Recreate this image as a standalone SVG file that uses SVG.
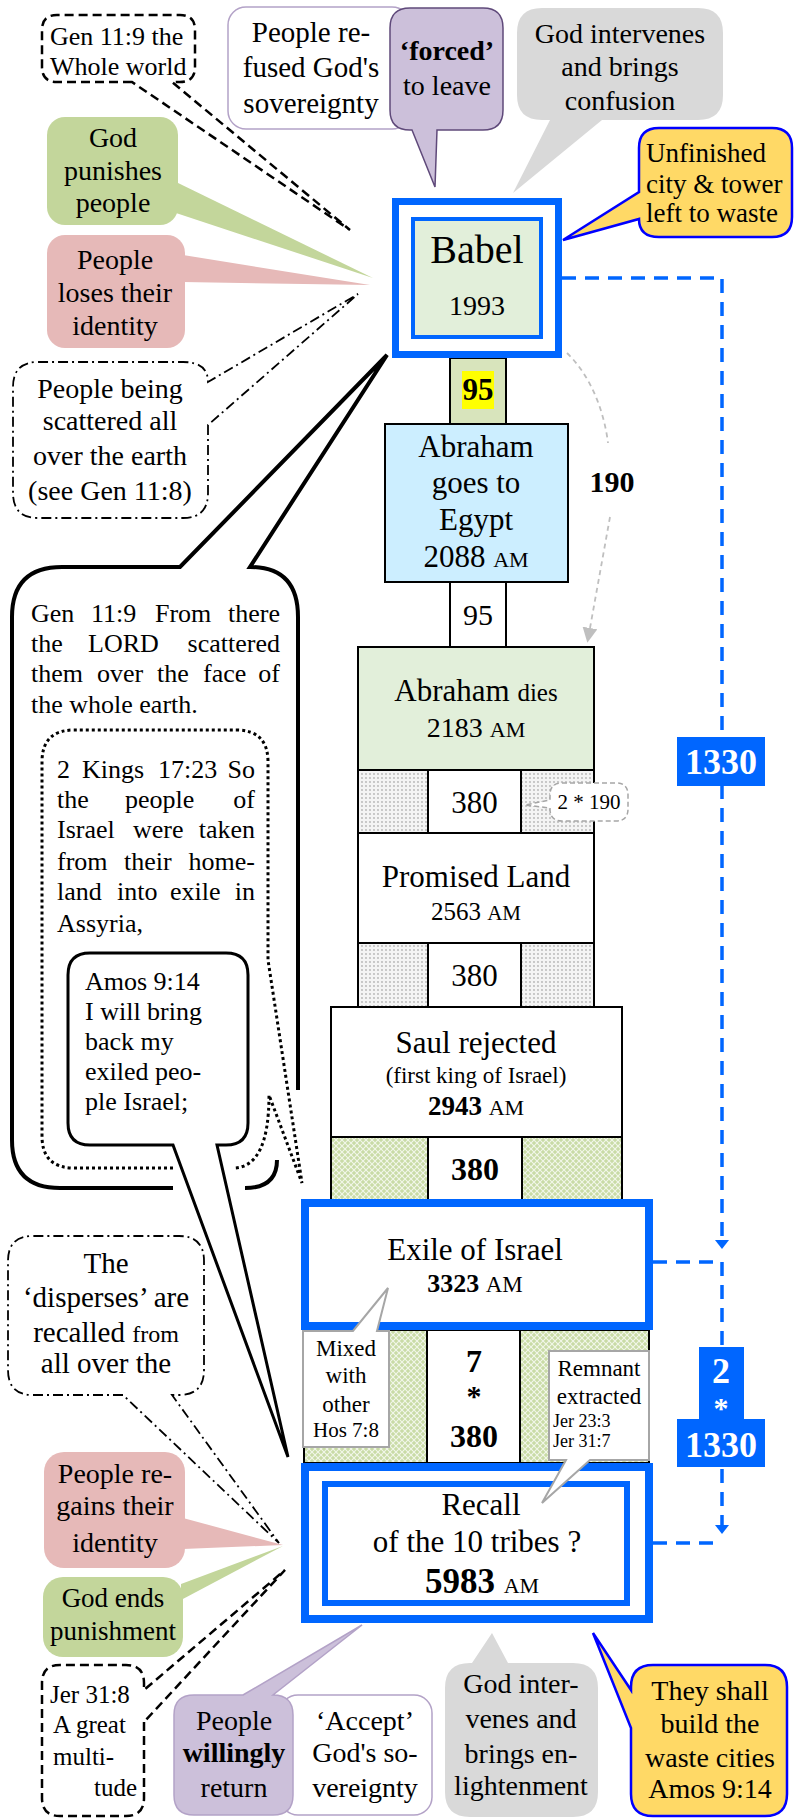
<svg xmlns="http://www.w3.org/2000/svg" width="800" height="1818" viewBox="0 0 800 1818">
<style>
text{font-family:"Liberation Serif","Times New Roman",serif;fill:#000}
.c{text-anchor:middle}
.e{text-anchor:end}
.b{font-weight:bold}
.f26{font-size:26px}.f28{font-size:28px}.f31{font-size:31px}
.box{stroke:#000;stroke-width:2}
.blue{fill:none;stroke:#0066ff}
.dash{fill:none;stroke:#0066ff;stroke-width:3.5;stroke-dasharray:14 9}
.wt{fill:#fff}
</style>
<defs>
<pattern id="dots" width="4" height="4" patternUnits="userSpaceOnUse"><rect width="4" height="4" fill="#f4f4f4"/><circle cx="2" cy="2" r="0.9" fill="#b4b4b4"/></pattern>
<pattern id="grn" width="6" height="6" patternUnits="userSpaceOnUse"><rect width="6" height="6" fill="#c9dba6"/><path d="M0,0 L6,6 M6,0 L0,6" stroke="#f2f7ea" stroke-width="1.1"/></pattern>
<marker id="ab" viewBox="0 0 9 14" refX="0" refY="7" markerWidth="9" markerHeight="14" markerUnits="userSpaceOnUse" orient="auto"><path d="M0,0 L9,7 L0,14 z" fill="#0066ff"/></marker>
<marker id="ag" viewBox="0 0 10 10" refX="0" refY="5" markerWidth="15" markerHeight="15" markerUnits="userSpaceOnUse" orient="auto"><path d="M0,0 L10,5 L0,10 z" fill="#bfbfbf"/></marker>
</defs>
<rect width="800" height="1818" fill="#fff"/>

<!-- top-left callouts -->
<g id="gen119a">
<path d="M132,82 H57 Q42,82 42,67 V30 Q42,15 57,15 H180 Q195,15 195,30 V67 Q195,82 180,82 H172 L350,230 Z" fill="#fff" stroke="#000" stroke-width="2.5" stroke-dasharray="9 5"/>
<text class="f26" x="50" y="45">Gen 11:9 the</text>
<text class="f26" x="50" y="75">Whole world</text>
</g>
<g id="refused">
<rect x="228" y="7" width="182" height="122" rx="18" fill="#fff" stroke="#b3a2c7" stroke-width="1.5"/>
<text class="c" style="font-size:29px" x="311" y="42">People re-</text>
<text class="c" style="font-size:29px" x="311" y="77">fused God's</text>
<text class="c" style="font-size:29px" x="311" y="113">sovereignty</text>
</g>
<g id="forced">
<path d="M412,130 L435,187 L437,130 H483 Q503,130 503,110 V28 Q503,8 483,8 H410 Q390,8 390,28 V110 Q390,130 410,130 Z" fill="#ccc0da" stroke="#5f497a" stroke-width="1.5"/>
<text class="c f28 b" x="447" y="60">‘forced’</text>
<text class="c f28" x="447" y="95">to leave</text>
</g>
<g id="confusion">
<path d="M542,120 Q517,120 517,95 V33 Q517,8 542,8 H698 Q723,8 723,33 V95 Q723,120 698,120 H602 L513,193 L550,120 Z" fill="#d9d9d9"/>
<text class="c f28" x="620" y="43">God intervenes</text>
<text class="c f28" x="620" y="76">and brings</text>
<text class="c f28" x="620" y="110">confusion</text>
</g>
<g id="unfinished">
<path d="M639,192 V148 Q639,128 659,128 H772 Q792,128 792,148 V217 Q792,237 772,237 H659 Q639,237 639,219 L563,240 Z" fill="#ffd966" stroke="#0000ff" stroke-width="2.5"/>
<text style="font-size:27px" x="646" y="162">Unfinished</text>
<text style="font-size:27px" x="646" y="193">city &amp; tower</text>
<text style="font-size:27px" x="646" y="222">left to waste</text>
</g>
<g id="punishes">
<rect x="47" y="117" width="131" height="108" rx="18" fill="#c3d69b"/>
<path d="M176,182 L373,278 L176,213 Z" fill="#c3d69b"/>
<text class="c f28" x="113" y="147">God</text>
<text class="c f28" x="113" y="180">punishes</text>
<text class="c f28" x="113" y="212">people</text>
</g>
<g id="loses">
<rect x="47" y="235" width="138" height="113" rx="18" fill="#e6b9b8"/>
<path d="M183,255 L370,285 L183,282 Z" fill="#e6b9b8"/>
<text class="c f28" x="115" y="269">People</text>
<text class="c f28" x="115" y="302">loses their</text>
<text class="c f28" x="115" y="335">identity</text>
</g>
<g id="scattered">
<path d="M208,425 V493 Q208,518 183,518 H38 Q13,518 13,493 V387 Q13,362 38,362 H183 Q208,362 208,382 L358,294 Z" fill="#fff" stroke="#000" stroke-width="1.8" stroke-dasharray="10 4 2 4"/>
<text class="c f28" x="110" y="398">People being</text>
<text class="c f28" x="110" y="430">scattered all</text>
<text class="c f28" x="110" y="465">over the earth</text>
<text class="c f28" x="110" y="500">(see Gen 11:8)</text>
</g>

<!-- big left callouts -->
<g id="gen119b">
<path d="M65,567 H180 L387,355 L250,567 Q298,567 298,617 V1140 Q298,1188 250,1188 H60 Q12,1188 12,1140 V617 Q12,567 65,567 Z" fill="#fff"/>
<path d="M173,1188 H60 Q12,1188 12,1140 V617 Q12,567 62,567 H180 L387,355 L250,567 Q298,567 298,617 V1090 M245,1188 Q277,1188 277,1160" fill="none" stroke="#000" stroke-width="4" stroke-linejoin="miter"/>
<g class="f26">
<text x="31" y="622">Gen</text><text x="91" y="622">11:9</text><text x="155" y="622">From</text><text class="e" x="280" y="622">there</text>
<text x="31" y="652">the</text><text x="88" y="652">LORD</text><text class="e" x="280" y="652">scattered</text>
<text x="31" y="682">them</text><text x="97" y="682">over</text><text x="157" y="682">the</text><text x="203" y="682">face</text><text class="e" x="280" y="682">of</text>
<text x="31" y="713">the whole earth.</text>
</g>
</g>
<g id="kings">
<path d="M74,730 H236 Q268,730 268,762 V960 L302,1183 L269,1095 Q269,1168 233,1168 H74 Q42,1168 42,1136 V762 Q42,730 74,730 Z" fill="#fff"/>
<path d="M173,1168 H74 Q42,1168 42,1136 V762 Q42,730 74,730 H236 Q268,730 268,762 V960 L302,1183 L269,1095 Q269,1168 233,1168" fill="none" stroke="#000" stroke-width="3" stroke-dasharray="3 3"/>
<g class="f26">
<text x="57" y="778">2</text><text x="82" y="778">Kings</text><text x="158" y="778">17:23</text><text class="e" x="255" y="778">So</text>
<text x="57" y="808">the</text><text x="125" y="808">people</text><text class="e" x="255" y="808">of</text>
<text x="57" y="838">Israel</text><text x="133" y="838">were</text><text class="e" x="255" y="838">taken</text>
<text x="57" y="870">from</text><text x="124" y="870">their</text><text class="e" x="255" y="870">home-</text>
<text x="57" y="900">land</text><text x="117" y="900">into</text><text x="170" y="900">exile</text><text class="e" x="255" y="900">in</text>
<text x="57" y="932">Assyria,</text>
</g>
</g>
<g id="amos">
<path d="M173,1145 H90 Q68,1145 68,1123 V975 Q68,953 90,953 H226 Q248,953 248,975 V1123 Q248,1145 226,1145 H217 L288,1457 Z" fill="#fff" stroke="#000" stroke-width="3"/>
<g class="f26">
<text x="85" y="990">Amos 9:14</text>
<text x="85" y="1020">I will bring</text>
<text x="85" y="1050">back my</text>
<text x="85" y="1080">exiled peo-</text>
<text x="85" y="1110">ple Israel;</text>
</g>
</g>

<!-- tower -->
<g id="col95a">
<rect class="box" x="450" y="358" width="56" height="66" fill="#d8e4bc"/>
<rect x="462" y="371" width="32" height="38" fill="#ffff00"/>
<text class="c b" style="font-size:31px" x="478" y="400">95</text>
</g>
<g id="babel">
<rect x="395.5" y="201.5" width="163" height="153" fill="#fff" class="blue" stroke-width="7"/>
<rect x="413" y="219" width="128" height="118" fill="#e2efda" stroke="#0066ff" stroke-width="4"/>
<text class="c" style="font-size:40px" x="477" y="263">Babel</text>
<text class="c f28" x="477" y="315">1993</text>
</g>
<g id="egypt">
<rect class="box" x="385" y="424" width="183" height="158" fill="#cceeff"/>
<text class="c f31" x="476" y="457">Abraham</text>
<text class="c f31" x="476" y="493">goes to</text>
<text class="c f31" x="476" y="530">Egypt</text>
<text class="c f31" x="476" y="567">2088 <tspan style="font-size:22px">AM</tspan></text>
</g>
<g id="col95b">
<rect class="box" x="450" y="582" width="56" height="65" fill="#fff"/>
<text class="c" style="font-size:30px" x="478" y="625">95</text>
</g>
<g id="abrdies">
<rect class="box" x="358" y="647" width="236" height="123" fill="#e2efda"/>
<text class="c f31" x="476" y="701">Abraham <tspan style="font-size:25px">dies</tspan></text>
<text class="c" style="font-size:28px" x="476" y="737">2183 <tspan style="font-size:22px">AM</tspan></text>
</g>
<g id="row380a">
<rect class="box" x="358" y="770" width="70" height="63" fill="url(#dots)"/>
<rect class="box" x="428" y="770" width="93" height="63" fill="#fff"/>
<rect class="box" x="521" y="770" width="73" height="63" fill="url(#dots)"/>
<text class="c f31" x="474.5" y="813">380</text>
</g>
<g id="x190">
<path d="M562,783 H616 Q628,783 628,795 V809 Q628,821 616,821 H562 Q550,821 550,809 V808 L525,805 L550,800 V795 Q550,783 562,783 Z" fill="#fff" stroke="#a6a6a6" stroke-width="1.5" stroke-dasharray="5 3"/>
<text class="c" style="font-size:21px" x="589" y="809">2 * 190</text>
</g>
<g id="promised">
<rect class="box" x="358" y="833" width="236" height="110" fill="#fff"/>
<text class="c f31" x="476" y="887">Promised Land</text>
<text class="c" style="font-size:25px" x="476" y="920">2563 <tspan style="font-size:21px">AM</tspan></text>
</g>
<g id="row380b">
<rect class="box" x="358" y="943" width="70" height="64" fill="url(#dots)"/>
<rect class="box" x="428" y="943" width="93" height="64" fill="#fff"/>
<rect class="box" x="521" y="943" width="73" height="64" fill="url(#dots)"/>
<text class="c f31" x="474.5" y="986">380</text>
</g>
<g id="saul">
<rect class="box" x="331" y="1007" width="291" height="130" fill="#fff"/>
<text class="c f31" x="476" y="1053">Saul rejected</text>
<text class="c" style="font-size:23px" x="476" y="1083">(first king of Israel)</text>
<text class="c" style="font-size:27px" x="476" y="1115"><tspan class="b">2943</tspan> <tspan style="font-size:22px">AM</tspan></text>
</g>
<g id="row380c">
<rect class="box" x="331" y="1137" width="97" height="63" fill="url(#grn)"/>
<rect class="box" x="428" y="1137" width="94" height="63" fill="#fff"/>
<rect class="box" x="522" y="1137" width="100" height="63" fill="url(#grn)"/>
<text class="c b" style="font-size:32px" x="475" y="1180">380</text>
</g>
<g id="row7">
<rect class="box" x="304" y="1330" width="123" height="133" fill="url(#grn)"/>
<rect class="box" x="427" y="1330" width="93" height="133" fill="#fff"/>
<rect class="box" x="520" y="1330" width="129" height="133" fill="url(#grn)"/>
<text class="c b" style="font-size:32px" x="474" y="1372">7</text>
<text class="c b" style="font-size:30px" x="474" y="1406">*</text>
<text class="c b" style="font-size:32px" x="474" y="1447">380</text>
</g>
<g id="exile">
<rect x="305" y="1203" width="344" height="123" fill="#fff" class="blue" stroke-width="8"/>
<text class="c f31" x="475" y="1260">Exile of Israel</text>
<text class="c" style="font-size:26px" x="475" y="1292"><tspan class="b">3323</tspan> <tspan style="font-size:23px">AM</tspan></text>
</g>
<g id="recall">
<rect x="305" y="1467" width="344" height="152" fill="#fff" class="blue" stroke-width="8"/>
<rect x="325" y="1484" width="302" height="119" fill="#fff" class="blue" stroke-width="6"/>
<text class="c f31" x="481" y="1515">Recall</text>
<text class="c f31" x="477" y="1552">of the 10 tribes ?</text>
<text class="c" style="font-size:35px" x="482" y="1593"><tspan class="b">5983</tspan> <tspan style="font-size:22px">AM</tspan></text>
</g>
<g id="mixed">
<path d="M303,1331 H353 L388,1288 L377,1331 H389 V1447 H303 Z" fill="#fff" stroke="#a6a6a6" stroke-width="2"/>
<text class="c" style="font-size:23px" x="346" y="1356">Mixed</text>
<text class="c" style="font-size:23px" x="346" y="1383">with</text>
<text class="c" style="font-size:23px" x="346" y="1412">other</text>
<text class="c" style="font-size:21px" x="346" y="1437">Hos 7:8</text>
</g>
<g id="remnant">
<path d="M549,1351 H649 V1460 H590 L542,1503 L566,1460 H549 Z" fill="#fff" stroke="#a6a6a6" stroke-width="2"/>
<text class="c" style="font-size:23px" x="599" y="1376">Remnant</text>
<text class="c" style="font-size:23px" x="599" y="1404">extracted</text>
<text style="font-size:18px" x="553" y="1427">Jer 23:3</text>
<text style="font-size:18px" x="553" y="1447">Jer 31:7</text>
</g>

<!-- bottom-left callouts -->
<g id="disperses">
<path d="M123,1395 H33 Q8,1395 8,1370 V1261 Q8,1236 33,1236 H179 Q204,1236 204,1261 V1370 Q204,1395 179,1395 H172 L279,1543 Z" fill="#fff" stroke="#000" stroke-width="1.8" stroke-dasharray="10 4 2 4"/>
<text class="c" style="font-size:29px" x="106" y="1273">The</text>
<text class="c" style="font-size:29px" x="106" y="1307">‘disperses’ are</text>
<text class="c" style="font-size:29px" x="106" y="1342">recalled <tspan style="font-size:24px">from</tspan></text>
<text class="c" style="font-size:29px" x="106" y="1373">all over the</text>
</g>
<g id="regains">
<rect x="44" y="1452" width="141" height="116" rx="20" fill="#e6b9b8"/>
<path d="M183,1518 L283,1545 L183,1549 Z" fill="#e6b9b8"/>
<text class="c f28" x="115" y="1483">People re-</text>
<text class="c f28" x="115" y="1515">gains their</text>
<text class="c f28" x="115" y="1552">identity</text>
</g>
<g id="ends">
<rect x="43" y="1577" width="140" height="80" rx="20" fill="#c3d69b"/>
<path d="M181,1584 L283,1546 L181,1600 Z" fill="#c3d69b"/>
<text class="c" style="font-size:27px" x="113" y="1607">God ends</text>
<text class="c" style="font-size:27px" x="113" y="1640">punishment</text>
</g>
<g id="jer318">
<path d="M144,1722 V1798 Q144,1816 126,1816 H60 Q42,1816 42,1798 V1683 Q42,1665 60,1665 H126 Q144,1665 144,1683 V1690 L285,1570 Z" fill="#fff" stroke="#000" stroke-width="2.5" stroke-dasharray="9 5"/>
<text style="font-size:25px" x="50" y="1703">Jer 31:8</text>
<text style="font-size:25px" x="53" y="1733">A great</text>
<text style="font-size:25px" x="53" y="1765">multi-</text>
<text class="e" style="font-size:25px" x="137" y="1796">tude</text>
</g>
<g id="accept">
<rect x="280" y="1695" width="152" height="120" rx="18" fill="#fff" stroke="#b3a2c7" stroke-width="1.5"/>
<text class="c f28" x="365" y="1730">‘Accept’</text>
<text class="c f28" x="365" y="1762">God's so-</text>
<text class="c f28" x="365" y="1797">vereignty</text>
</g>
<g id="willingly">
<path d="M243,1695 L362,1625 L273,1695 H273 Q293,1695 293,1715 V1795 Q293,1815 273,1815 H194 Q174,1815 174,1795 V1715 Q174,1695 194,1695 Z" fill="#ccc0da" stroke="#b3a2c7" stroke-width="1.5"/>
<text class="c f28" x="234" y="1730">People</text>
<text class="c f28 b" x="234" y="1762">willingly</text>
<text class="c f28" x="234" y="1797">return</text>
</g>
<g id="enlight">
<path d="M472,1663 L492,1633 L508,1663 H573 Q598,1663 598,1688 V1792 Q598,1817 573,1817 H470 Q445,1817 445,1792 V1688 Q445,1663 470,1663 Z" fill="#d9d9d9"/>
<text class="c f28" x="521" y="1693">God inter-</text>
<text class="c f28" x="521" y="1728">venes and</text>
<text class="c f28" x="521" y="1763">brings en-</text>
<text class="c f28" x="521" y="1795">lightenment</text>
</g>
<g id="build">
<path d="M631,1690 V1687 Q631,1665 653,1665 H765 Q787,1665 787,1687 V1794 Q787,1816 765,1816 H653 Q631,1816 631,1794 V1728 L593,1633 Z" fill="#ffd966" stroke="#0000ff" stroke-width="2.5"/>
<text class="c f28" x="710" y="1700">They shall</text>
<text class="c f28" x="710" y="1733">build the</text>
<text class="c f28" x="710" y="1767">waste cities</text>
<text class="c f28" x="710" y="1798">Amos 9:14</text>
</g>

<!-- connectors -->
<g id="connectors">
<path d="M567,353 C590,375 604,410 608,443" fill="none" stroke="#bfbfbf" stroke-width="1.8" stroke-dasharray="5 4"/>
<path d="M610,517 L590,628" fill="none" stroke="#bfbfbf" stroke-width="1.8" stroke-dasharray="5 4" marker-end="url(#ag)"/>
<text class="c b" style="font-size:30px" x="612" y="492">190</text>
<path class="dash" d="M562,278 H722 V1240" marker-end="url(#ab)"/>
<path class="dash" d="M653,1262 H722 V1525" marker-end="url(#ab)"/>
<path class="dash" d="M653,1543 H722"/>
</g>
<g id="lbl1330">
<rect x="677" y="737" width="88" height="49" fill="#0066ff"/>
<text class="c b" style="font-size:36px;fill:#fff" x="721" y="774">1330</text>
</g>
<g id="lbl2x1330">
<path d="M699,1347 H744 V1419 H765 V1467 H677 V1419 H699 Z" fill="#0066ff"/>
<text class="c b" style="font-size:36px;fill:#fff" x="721" y="1383">2</text>
<text class="c b" style="font-size:30px;fill:#fff" x="721" y="1418">*</text>
<text class="c b" style="font-size:36px;fill:#fff" x="721" y="1457">1330</text>
</g>
</svg>
